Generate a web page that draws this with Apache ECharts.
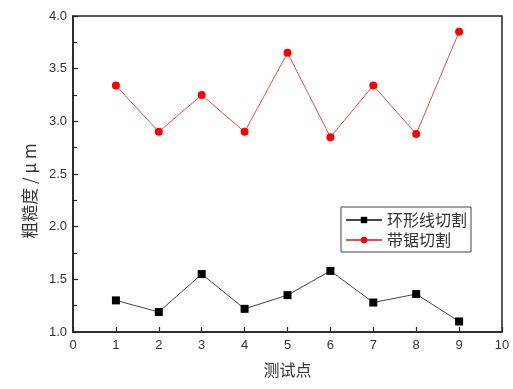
<!DOCTYPE html>
<html><head><meta charset="utf-8">
<script src="https://cdn.jsdelivr.net/npm/echarts@6/dist/echarts.min.js"></script>
<style>html,body{margin:0;padding:0;background:#fff}#c{width:513px;height:389px}</style>
</head><body><div id="c"></div>
<script>
var testPoints = [1,2,3,4,5,6,7,8,9];
var ringWire = [1.30,1.19,1.55,1.22,1.35,1.58,1.28,1.36,1.10];
var bandSaw = [3.34,2.90,3.25,2.90,3.65,2.85,3.34,2.88,3.85];
var seriesNames = ['环形线切割','带锯切割'];
var xTitle = '测试点';
var yTitle = '粗糙度 / μ m';

var font = '"Liberation Sans", Arial, "Noto Sans CJK SC", sans-serif';
var cjk = '"Noto Sans CJK SC", sans-serif';
function pairs(xs, ys){ return xs.map(function(x,i){return [x, ys[i]];}); }

var chart = echarts.init(document.getElementById('c'), null, {renderer:'canvas'});
chart.setOption({
  animation:false,
  backgroundColor:'#fff',
  grid:{left:73, top:16, width:429, height:316, show:true, borderColor:'#222', borderWidth:1.5, backgroundColor:'transparent'},
  graphic:[{type:'text', x:30, y:191, rotation:Math.PI/2,
    style:{text:yTitle, fontFamily:cjk, fontSize:17, fill:'#333', align:'center', verticalAlign:'middle'}}],
  xAxis:{type:'value', min:0, max:10, interval:1,
    name:xTitle, nameLocation:'middle', nameGap:30,
    nameTextStyle:{fontFamily:cjk, fontSize:16, color:'#333'},
    axisLine:{lineStyle:{color:'#222', width:1.5}},
    axisTick:{inside:true, length:5, lineStyle:{color:'#222', width:1.2}},
    axisLabel:{fontFamily:font, fontSize:13, color:'#333', margin:7},
    splitLine:{show:false}},
  yAxis:{type:'value', min:1, max:4, interval:0.5,
    axisLine:{lineStyle:{color:'#222', width:1.5}},
    axisTick:{inside:true, length:5, lineStyle:{color:'#222', width:1.2}},
    minorTick:{show:true, splitNumber:2, length:4, lineStyle:{color:'#222', width:1.2}},
    axisLabel:{fontFamily:font, fontSize:13, color:'#333', margin:6, formatter:function(v){return v.toFixed(1);}},
    splitLine:{show:false}},
  legend:{orient:'vertical', left:341, top:207, itemWidth:36, itemHeight:8, itemGap:4,
    padding:[5,4,4,4],
    borderColor:'#444', borderWidth:1, backgroundColor:'#fff',
    textStyle:{fontFamily:cjk, fontSize:16, color:'#333'},
    data:seriesNames},
  series:[
    {name:seriesNames[0], type:'line', data:pairs(testPoints, ringWire),
     symbol:'rect', symbolSize:8, lineStyle:{color:'#444', width:1},
     itemStyle:{color:'#000'}},
    {name:seriesNames[1], type:'line', data:pairs(testPoints, bandSaw),
     symbol:'circle', symbolSize:8, lineStyle:{color:'#e05050', width:1},
     itemStyle:{color:'#ff0000'}}
  ]
});
</script></body></html>
